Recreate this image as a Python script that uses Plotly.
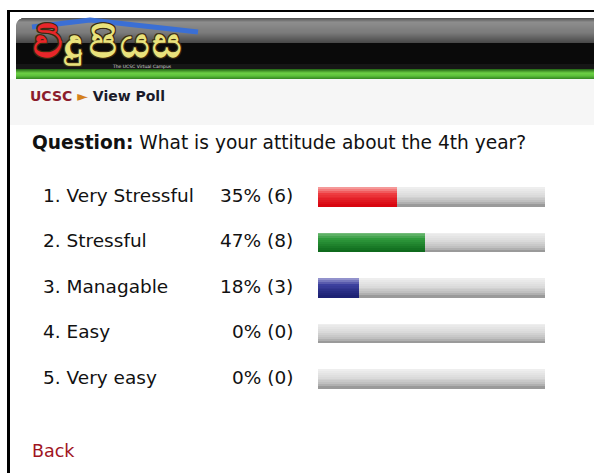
import plotly.graph_objects as go

# ---------------- data ----------------
options = ["1. Very Stressful", "2. Stressful", "3. Managable", "4. Easy", "5. Very easy"]
percents = [35, 47, 18, 0, 0]
counts = [6, 8, 3, 0, 0]
question = "What is your attitude about the 4th year?"
scale_max = 100
logo_clusters = ["වි", "දු", "පි", "ය", "ස"]
logo_caption = "The UCSC Virtual Campus"
crumb_site = "UCSC"
crumb_page = "View Poll"
back_text = "Back"

# ---------------- geometry helpers (pixels -> paper) ----------------
W, H = 594, 473
XR = W
def fx(x): return x / W
def fy(y): return 1 - y / H

BAR_L, BAR_R = 318, 545
ROW0, PITCH = 197, 45.5
BAR_H = 19
xs = (BAR_R - BAR_L) / scale_max
x_range = [-BAR_L / xs, (W - BAR_L) / xs]
y_range = [(H - ROW0) / PITCH, -ROW0 / PITCH]
rows = list(range(len(options)))
bw = BAR_H / PITCH

def hex2rgb(h):
    h = h.lstrip('#'); return [int(h[i:i+2], 16) for i in (0, 2, 4)]

def grad(stops, t):
    for (t0, c0), (t1, c1) in zip(stops, stops[1:]):
        if t0 <= t <= t1:
            a = (t - t0) / (t1 - t0) if t1 > t0 else 0
            r0, r1 = hex2rgb(c0), hex2rgb(c1)
            return 'rgb(%d,%d,%d)' % tuple(round(r0[i] + (r1[i] - r0[i]) * a) for i in range(3))
    return stops[-1][1]

gray = [(0, '#f0f0f0'), (0.45, '#dadada'), (0.8, '#bcbcbc'), (1, '#8e8e8e')]
red = [(0, '#f6a8a8'), (0.35, '#ee3c40'), (1, '#d6000c')]
green = [(0, '#80c284'), (0.35, '#2f9a3c'), (1, '#0c661a')]
blue = [(0, '#a0a0d4'), (0.35, '#3c409e'), (1, '#1a2070')]
row_grads = [red, green, blue, gray, gray]

fig = go.Figure()
N = 10
for layer in ("bg", "fg"):
    for k in range(N):
        t = (k + 0.5) / N
        if layer == "bg":
            xv = [scale_max] * len(options)
            col = grad(gray, t)
        else:
            xv = percents
            col = [grad(g, t) for g in row_grads]
        fig.add_trace(go.Bar(
            x=xv, y=rows, orientation='h',
            width=bw / N + 0.002, offset=-bw / 2 + k * bw / N,
            marker=dict(color=col, line=dict(width=0)),
            hoverinfo='skip', showlegend=False))

shapes = []
def rect(x0, y0, x1, y1, color):
    shapes.append(dict(type='rect', xref='paper', yref='paper', x0=fx(x0), x1=fx(x1),
                       y0=fy(y1), y1=fy(y0), fillcolor=color, line=dict(width=0), layer='below'))

# light band behind breadcrumb
rect(10, 79, XR, 125, '#f6f6f6')
# header: black lower band, gray gradient upper band with rounded top-left corner
rect(16, 43, XR, 69, '#0a0a0a')
rect(16, 64, XR, 69, '#161616')
hg = [(0, '#555555'), (0.15, '#8e8e8e'), (0.6, '#7a7a7a'), (1, '#4a4a4a')]
R = 8
for i in range(25):
    y0 = 18 + i
    if i < R:
        d = R - i - 0.5
        x0 = 16 + R - (R * R - d * d) ** 0.5
    else:
        x0 = 16
    rect(x0, y0, XR, y0 + 1, grad(hg, i / 24))
for i in range(10):
    t = i / 9
    rect(16, 69 + i, XR, 70 + i, grad([(0, '#2a6e1a'), (0.4, '#6ccf44'), (0.7, '#5cc03a'), (1, '#3a8e26')], t))
# outer frame
rect(7, 10, XR, 12, '#000000')
rect(7, 10, 10, H, '#000000')
# blue roof of logo
roof = "M {},{} L {},{} L {},{}".format(fx(32), fy(27), fx(90), fy(20), fx(198), fy(32))
shapes.append(dict(type='path', xref='paper', yref='paper', path=roof,
                   line=dict(color='#3b6fd4', width=5)))

ann = []
def text(x, y, s, size, color='#111111', anchor='left', bold=False, fam='DejaVu Sans', shadow=None):
    f = dict(family=fam, size=size, color=color, weight='bold' if bold else 'normal')
    if shadow:
        f['shadow'] = shadow
    ann.append(dict(xref='paper', yref='paper', x=fx(x), y=fy(y), text=s, showarrow=False,
                    xanchor=anchor, yanchor='middle', font=f))

outline = '1px 1px 0 #3a2a10, -1px -1px 0 #3a2a10, 1px -1px 0 #3a2a10, -1px 1px 0 #3a2a10'
logo_x = [47, 73, 103, 134, 166]
for j, (cl, lx) in enumerate(zip(logo_clusters, logo_x)):
    text(lx, 43, cl, 41, color='#e8262a' if j == 0 else '#e9e27c', anchor='center',
         bold=True, shadow=outline)
text(110, 66, logo_caption, 4.5, color='#d8d8d8')
text(28, 96, "<span style='color:#8b1c2c'>%s</span> <span style='color:#d4801c'>►</span> %s"
     % (crumb_site, crumb_page), 14, color='#1a1a2a', bold=True)
text(30, 142, "<b>Question:</b> " + question, 18.6, color='#111111')
for i, (o, pc, c) in enumerate(zip(options, percents, counts)):
    cy = ROW0 + i * PITCH - 2
    text(41, cy, o, 18.5)
    text(295, cy, "%d%% (%d)" % (pc, c), 18.5, anchor='right')
text(30, 451, back_text, 17.5, color='#a0141e')

fig.update_layout(
    width=W, height=H, margin=dict(l=0, r=0, t=0, b=0),
    paper_bgcolor='white', plot_bgcolor='rgba(0,0,0,0)',
    barmode='overlay', bargap=0,
    xaxis=dict(range=x_range, visible=False, fixedrange=True),
    yaxis=dict(range=y_range, visible=False, fixedrange=True),
    shapes=shapes, annotations=ann, showlegend=False,
)
fig.write_html("out.html", config={'displayModeBar': False})
